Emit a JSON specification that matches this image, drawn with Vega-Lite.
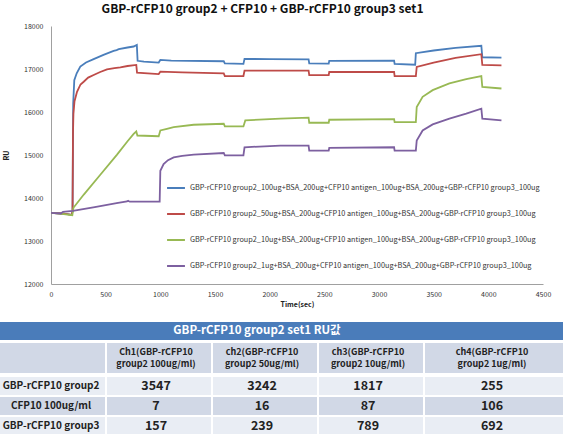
{
  "$schema": "https://vega.github.io/schema/vega-lite/v6.json",
  "padding": {"top": 3, "left": 0, "right": 0, "bottom": 2},
  "background": "white",
  "spacing": 15,
  "align": "none",
  "config": {"view": {"stroke": null}, "font": "Noto Sans CJK KR"},
  "resolve": {"scale": {"x": "independent", "y": "independent", "color": "independent"}},
  "datasets": {
    "lines": [
      {"s":"100ug","t":0,"ru":13655},{"s":"100ug","t":100,"ru":13640},{"s":"100ug","t":190,"ru":13610},{"s":"100ug","t":197,"ru":13700},{"s":"100ug","t":203,"ru":16200},{"s":"100ug","t":213,"ru":16742},{"s":"100ug","t":235,"ru":16900},{"s":"100ug","t":268,"ru":17055},{"s":"100ug","t":320,"ru":17150},{"s":"100ug","t":390,"ru":17230},{"s":"100ug","t":480,"ru":17330},{"s":"100ug","t":573,"ru":17420},{"s":"100ug","t":600,"ru":17440},{"s":"100ug","t":620,"ru":17460},{"s":"100ug","t":700,"ru":17500},{"s":"100ug","t":756,"ru":17523},{"s":"100ug","t":785,"ru":17560},{"s":"100ug","t":792,"ru":17190},{"s":"100ug","t":850,"ru":17170},{"s":"100ug","t":985,"ru":17150},{"s":"100ug","t":1000,"ru":17210},{"s":"100ug","t":1100,"ru":17195},{"s":"100ug","t":1580,"ru":17180},{"s":"100ug","t":1590,"ru":17130},{"s":"100ug","t":1760,"ru":17120},{"s":"100ug","t":1770,"ru":17235},{"s":"100ug","t":2000,"ru":17230},{"s":"100ug","t":2356,"ru":17225},{"s":"100ug","t":2362,"ru":17133},{"s":"100ug","t":2540,"ru":17125},{"s":"100ug","t":2545,"ru":17190},{"s":"100ug","t":3138,"ru":17195},{"s":"100ug","t":3143,"ru":17117},{"s":"100ug","t":3331,"ru":17100},{"s":"100ug","t":3337,"ru":17367},{"s":"100ug","t":3500,"ru":17430},{"s":"100ug","t":3700,"ru":17490},{"s":"100ug","t":3936,"ru":17540},{"s":"100ug","t":3945,"ru":17273},{"s":"100ug","t":4120,"ru":17265},
      {"s":"50ug","t":0,"ru":13655},{"s":"50ug","t":100,"ru":13640},{"s":"50ug","t":190,"ru":13610},{"s":"50ug","t":197,"ru":13700},{"s":"50ug","t":201,"ru":15500},{"s":"50ug","t":205,"ru":15960},{"s":"50ug","t":215,"ru":16250},{"s":"50ug","t":238,"ru":16470},{"s":"50ug","t":270,"ru":16640},{"s":"50ug","t":299,"ru":16703},{"s":"50ug","t":340,"ru":16800},{"s":"50ug","t":390,"ru":16860},{"s":"50ug","t":450,"ru":16930},{"s":"50ug","t":512,"ru":16992},{"s":"50ug","t":580,"ru":17020},{"s":"50ug","t":634,"ru":17040},{"s":"50ug","t":700,"ru":17070},{"s":"50ug","t":780,"ru":17094},{"s":"50ug","t":787,"ru":16914},{"s":"50ug","t":985,"ru":16883},{"s":"50ug","t":1000,"ru":16937},{"s":"50ug","t":1200,"ru":16920},{"s":"50ug","t":1580,"ru":16900},{"s":"50ug","t":1590,"ru":16836},{"s":"50ug","t":1760,"ru":16836},{"s":"50ug","t":1770,"ru":16960},{"s":"50ug","t":2356,"ru":16961},{"s":"50ug","t":2362,"ru":16859},{"s":"50ug","t":2540,"ru":16859},{"s":"50ug","t":2545,"ru":16930},{"s":"50ug","t":3138,"ru":16930},{"s":"50ug","t":3143,"ru":16836},{"s":"50ug","t":3337,"ru":16836},{"s":"50ug","t":3345,"ru":17050},{"s":"50ug","t":3500,"ru":17150},{"s":"50ug","t":3700,"ru":17260},{"s":"50ug","t":3936,"ru":17344},{"s":"50ug","t":3945,"ru":17094},{"s":"50ug","t":4120,"ru":17086},
      {"s":"10ug","t":0,"ru":13655},{"s":"10ug","t":100,"ru":13630},{"s":"10ug","t":195,"ru":13600},{"s":"10ug","t":205,"ru":13773},{"s":"10ug","t":300,"ru":14080},{"s":"10ug","t":451,"ru":14541},{"s":"10ug","t":604,"ru":15009},{"s":"10ug","t":700,"ru":15320},{"s":"10ug","t":756,"ru":15492},{"s":"10ug","t":780,"ru":15547},{"s":"10ug","t":790,"ru":15453},{"s":"10ug","t":985,"ru":15437},{"s":"10ug","t":1000,"ru":15570},{"s":"10ug","t":1060,"ru":15610},{"s":"10ug","t":1122,"ru":15648},{"s":"10ug","t":1305,"ru":15703},{"s":"10ug","t":1580,"ru":15727},{"s":"10ug","t":1590,"ru":15664},{"s":"10ug","t":1760,"ru":15664},{"s":"10ug","t":1777,"ru":15805},{"s":"10ug","t":2098,"ru":15844},{"s":"10ug","t":2356,"ru":15867},{"s":"10ug","t":2362,"ru":15750},{"s":"10ug","t":2540,"ru":15750},{"s":"10ug","t":2545,"ru":15820},{"s":"10ug","t":3138,"ru":15836},{"s":"10ug","t":3143,"ru":15766},{"s":"10ug","t":3337,"ru":15766},{"s":"10ug","t":3345,"ru":16117},{"s":"10ug","t":3399,"ru":16352},{"s":"10ug","t":3491,"ru":16508},{"s":"10ug","t":3644,"ru":16664},{"s":"10ug","t":3798,"ru":16766},{"s":"10ug","t":3936,"ru":16836},{"s":"10ug","t":3945,"ru":16586},{"s":"10ug","t":4120,"ru":16547},
      {"s":"1ug","t":0,"ru":13655},{"s":"1ug","t":90,"ru":13640},{"s":"1ug","t":110,"ru":13680},{"s":"1ug","t":200,"ru":13700},{"s":"1ug","t":400,"ru":13790},{"s":"1ug","t":600,"ru":13880},{"s":"1ug","t":695,"ru":13920},{"s":"1ug","t":705,"ru":13935},{"s":"1ug","t":720,"ru":13914},{"s":"1ug","t":994,"ru":13914},{"s":"1ug","t":1000,"ru":14633},{"s":"1ug","t":1030,"ru":14789},{"s":"1ug","t":1070,"ru":14880},{"s":"1ug","t":1122,"ru":14945},{"s":"1ug","t":1200,"ru":14980},{"s":"1ug","t":1305,"ru":15008},{"s":"1ug","t":1580,"ru":15047},{"s":"1ug","t":1590,"ru":14992},{"s":"1ug","t":1760,"ru":14992},{"s":"1ug","t":1770,"ru":15180},{"s":"1ug","t":2098,"ru":15219},{"s":"1ug","t":2356,"ru":15219},{"s":"1ug","t":2362,"ru":15102},{"s":"1ug","t":2540,"ru":15102},{"s":"1ug","t":2545,"ru":15164},{"s":"1ug","t":3138,"ru":15180},{"s":"1ug","t":3143,"ru":15102},{"s":"1ug","t":3337,"ru":15102},{"s":"1ug","t":3345,"ru":15336},{"s":"1ug","t":3399,"ru":15570},{"s":"1ug","t":3491,"ru":15711},{"s":"1ug","t":3644,"ru":15844},{"s":"1ug","t":3798,"ru":15961},{"s":"1ug","t":3936,"ru":16078},{"s":"1ug","t":3945,"ru":15844},{"s":"1ug","t":4120,"ru":15805}
    ],
    "header": [
      {"col":"Ch1","h":"Ch1(GBP-rCFP10\ngroup2 100ug/ml)"},
      {"col":"ch2","h":"ch2(GBP-rCFP10\ngroup2 50ug/ml)"},
      {"col":"ch3","h":"ch3(GBP-rCFP10\ngroup2 10ug/ml)"},
      {"col":"ch4","h":"ch4(GBP-rCFP10\ngroup2 1ug/ml)"}
    ],
    "cells": [
      {"row":"GBP-rCFP10 group2","col":"Ch1","v":3547},{"row":"GBP-rCFP10 group2","col":"ch2","v":3242},{"row":"GBP-rCFP10 group2","col":"ch3","v":1817},{"row":"GBP-rCFP10 group2","col":"ch4","v":255},
      {"row":"CFP10 100ug/ml","col":"Ch1","v":7},{"row":"CFP10 100ug/ml","col":"ch2","v":16},{"row":"CFP10 100ug/ml","col":"ch3","v":87},{"row":"CFP10 100ug/ml","col":"ch4","v":106},
      {"row":"GBP-rCFP10 group3","col":"Ch1","v":157},{"row":"GBP-rCFP10 group3","col":"ch2","v":239},{"row":"GBP-rCFP10 group3","col":"ch3","v":789},{"row":"GBP-rCFP10 group3","col":"ch4","v":692}
    ],
    "tabletitle": [{"title":"GBP-rCFP10 group2 set1 RU값"}]
  },
  "vconcat": [
    {
      "width": 492,
      "height": 258,
      "title": {"text": "GBP-rCFP10 group2 + CFP10 + GBP-rCFP10 group3 set1", "fontSize": 12, "fontWeight": "bold", "anchor": "start", "dx": 99, "offset": 6, "color": "#111", "font": "Noto Sans CJK KR"},
      "data": {"name": "lines"},
      "mark": {"type": "line", "strokeWidth": 1.8},
      "encoding": {
        "x": {"field": "t", "type": "quantitative",
          "scale": {"domain": [0, 4500], "nice": false},
          "axis": {"values": [0,500,1000,1500,2000,2500,3000,3500,4000,4500], "format": "d", "labelFlush": false, "grid": false, "ticks": false, "domainColor": "#a0a0a0", "labelFontSize": 7, "labelColor": "#333", "labelPadding": 6, "title": "Time(sec)", "titleFontSize": 7, "titleFontWeight": "bold", "titleColor": "#222", "titlePadding": 3}},
        "y": {"field": "ru", "type": "quantitative",
          "scale": {"domain": [12000, 18000], "nice": false, "zero": false},
          "axis": {"values": [12000,13000,14000,15000,16000,17000,18000], "format": "d", "labelFlush": false, "grid": false, "ticks": false, "domainColor": "#a0a0a0", "labelFontSize": 7, "labelColor": "#333", "labelPadding": 8, "title": "RU", "titleFontSize": 7, "titleFontWeight": "bold", "titleColor": "#222", "titlePadding": 14}},
        "color": {"field": "s", "type": "nominal",
          "scale": {"domain": ["100ug","50ug","10ug","1ug"], "range": ["#4a7ebb","#be4b48","#98b954","#7d60a0"]},
          "legend": {"orient": "none", "legendX": 115, "legendY": 152, "title": null, "symbolType": "stroke", "symbolSize": 320, "symbolStrokeWidth": 2, "labelFontSize": 7.3, "labelColor": "#333", "labelLimit": 600, "rowPadding": 12, "labelOffset": 4,
            "labelExpr": "'GBP-rCFP10 group2_' + datum.label + '+BSA_200ug+CFP10 antigen_100ug+BSA_200ug+GBP-rCFP10 group3_100ug'"}}
      }
    },
    {
      "spacing": 2,
      "align": "none",
      "resolve": {"scale": {"x": "independent", "y": "independent", "color": "independent"}},
      "vconcat": [
        {
          "width": 512, "height": 18,
          "data": {"name": "tabletitle"},
          "encoding": {"x": {"datum": "label", "type": "nominal", "scale": {"domain": ["label","Ch1","ch2","ch3","ch4"], "range": [-51, 479], "paddingInner": 0, "paddingOuter": 0}, "axis": null}},
          "layer": [
            {"mark": {"type": "rect", "color": "#4a7cba"}, "encoding": {"x": null}},
            {"mark": {"type": "rect", "color": "#4a7cba"}},
            {"mark": {"type": "text", "color": "white", "fontSize": 11.5, "fontWeight": "bold", "dx": -50, "font": "Noto Sans CJK KR"}, "encoding": {"x": null, "text": {"field": "title"}}}
          ]
        },
        {
          "width": 512, "height": 30,
          "data": {"name": "header"},
          "encoding": {"x": {"field": "col", "type": "nominal", "scale": {"domain": ["label","Ch1","ch2","ch3","ch4"], "range": [-51, 479], "paddingInner": 0, "paddingOuter": 0}, "axis": null}},
          "layer": [
            {"mark": {"type": "rect", "color": "#d1d8e6"}, "encoding": {"x": null}},
            {"mark": {"type": "rect", "color": "#d1d8e6"}, "encoding": {"x": {"datum": "label"}}},
            {"mark": {"type": "rule", "color": "white", "strokeWidth": 2}, "encoding": {"x": {"field": "col", "type": "nominal", "bandPosition": 0}}},
            {"transform": [{"filter": "datum.col != 'ch4'"}], "mark": {"type": "text", "fontSize": 9, "fontWeight": "bold", "color": "#222", "lineBreak": "\n", "lineHeight": 12, "dx": -3, "dy": -6, "baseline": "middle"}, "encoding": {"text": {"field": "h"}}},
            {"transform": [{"filter": "datum.col == 'ch4'"}], "mark": {"type": "text", "fontSize": 9, "fontWeight": "bold", "color": "#222", "lineBreak": "\n", "lineHeight": 12, "dx": 15, "dy": -6, "baseline": "middle"}, "encoding": {"text": {"field": "h"}}}
          ]
        },
        {
          "width": 512, "height": 58,
          "data": {"name": "cells"},
          "encoding": {
            "x": {"field": "col", "type": "nominal", "scale": {"domain": ["label","Ch1","ch2","ch3","ch4"], "range": [-51, 479], "paddingInner": 0, "paddingOuter": 0}, "axis": null},
            "y": {"field": "row", "type": "nominal", "sort": null, "scale": {"domain": ["GBP-rCFP10 group2","CFP10 100ug/ml","GBP-rCFP10 group3"], "paddingInner": 0.1, "paddingOuter": 0}, "axis": null}
          },
          "layer": [
            {"mark": {"type": "rect"}, "encoding": {"x": null, "color": {"field": "row", "type": "nominal", "scale": {"domain": ["GBP-rCFP10 group2","CFP10 100ug/ml","GBP-rCFP10 group3"], "range": ["#e9edf4","#d1d8e6","#e9edf4"]}, "legend": null}}},
            {"transform": [{"filter": "datum.col == 'Ch1'"}], "mark": {"type": "rect"}, "encoding": {"x": {"datum": "label"}, "color": {"field": "row", "type": "nominal", "scale": {"domain": ["GBP-rCFP10 group2","CFP10 100ug/ml","GBP-rCFP10 group3"], "range": ["#e9edf4","#d1d8e6","#e9edf4"]}, "legend": null}}},
            {"mark": {"type": "rule", "color": "white", "strokeWidth": 2}, "encoding": {"x": {"field": "col", "type": "nominal", "bandPosition": 0}, "y": null}},
            {"transform": [{"filter": "datum.col == 'Ch1'"}], "mark": {"type": "text", "fontSize": 10, "fontWeight": "bold", "color": "#222", "dx": -2}, "encoding": {"x": {"datum": "label"}, "text": {"field": "row"}}},
            {"transform": [{"filter": "datum.col != 'ch4'"}], "mark": {"type": "text", "fontSize": 12.5, "fontWeight": "bold", "color": "#222", "dx": -3}, "encoding": {"text": {"field": "v"}}},
            {"transform": [{"filter": "datum.col == 'ch4'"}], "mark": {"type": "text", "fontSize": 12.5, "fontWeight": "bold", "color": "#222", "dx": 15}, "encoding": {"text": {"field": "v"}}}
          ]
        }
      ]
    }
  ]
}
